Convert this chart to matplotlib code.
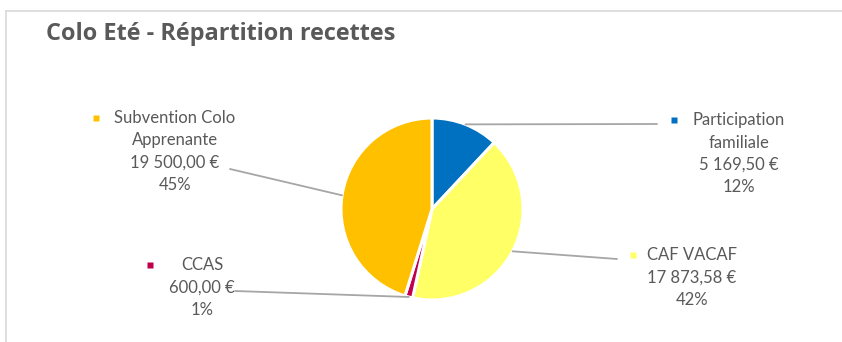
import numpy as np
import matplotlib.pyplot as plt

# data
names = ["Participation\nfamiliale", "CAF VACAF", "CCAS", "Subvention Colo\nApprenante"]
amounts = [5169.50, 17873.58, 600.00, 19500.00]
pct_labels = ["12%", "42%", "1%", "45%"]
colors = ["#0070C0", "#FFFF66", "#C0004D", "#FFC000"]

W, H = 842, 342
txt_col = "#595959"
plt.rcParams["font.family"] = ["Lato", "DejaVu Sans"]

fig = plt.figure(figsize=(W / 100, H / 100), dpi=100)

# chart frame (only top / left visible)
frame = fig.add_axes([0, 0, 1, 1])
frame.set_xlim(0, W)
frame.set_ylim(H, 0)
frame.axis("off")
frame.plot([6, W], [11, 11], color="#D9D9D9", lw=1.2)
frame.plot([6, 6], [11, H], color="#D9D9D9", lw=1.2)

fig.text(46 / W, 1 - 33.5 / H, "Colo Eté - Répartition recettes", fontsize=16.9,
         fontweight="bold", color=txt_col, ha="left", va="center",
         family=["Open Sans", "Lato"])

# pie
cx, cy, r = 432, 209, 91
ax = fig.add_axes([(cx - r) / W, (H - cy - r) / H, 2 * r / W, 2 * r / H])
wedges, _ = ax.pie(amounts, colors=colors, startangle=90, counterclock=False,
                   radius=1, wedgeprops=dict(edgecolor="white", linewidth=2.2))
ax.set_xlim(-1, 1)
ax.set_ylim(-1, 1)

def fmt_eur(v):
    return f"{v:,.2f}".replace(",", " ").replace(".", ",") + " €"

# label layout (pixel positions: text center x, first line y, bullet x, line end)
label_pos = [
    (739, 120, 674, (657, 124)),
    (692, 255, 633, (617, 259)),
    (202, 265, 150, (235, 291)),
    (175, 118, 96, (230, 169)),
]

for w, name, amt, pct, col, (tx, ty, bx, lend) in zip(
        wedges, names, amounts, pct_labels, colors, label_pos):
    lines = name.split("\n") + [fmt_eur(amt), pct]
    step = 22.5
    for i, ln in enumerate(lines):
        frame.text(tx, ty + i * step, ln, fontsize=12, color=txt_col,
                   ha="center", va="center")
    frame.plot([bx], [ty], marker="s", ms=4.5, color=col, mec="none")
    ang = np.deg2rad((w.theta1 + w.theta2) / 2)
    ax.annotate("", xy=(np.cos(ang), np.sin(ang)), xycoords="data",
                xytext=(lend[0], H - lend[1]), textcoords="figure pixels",
                arrowprops=dict(arrowstyle="-", color="#A6A6A6", lw=1.3,
                                shrinkA=0, shrinkB=0))

fig.savefig("out.png", dpi=100)
